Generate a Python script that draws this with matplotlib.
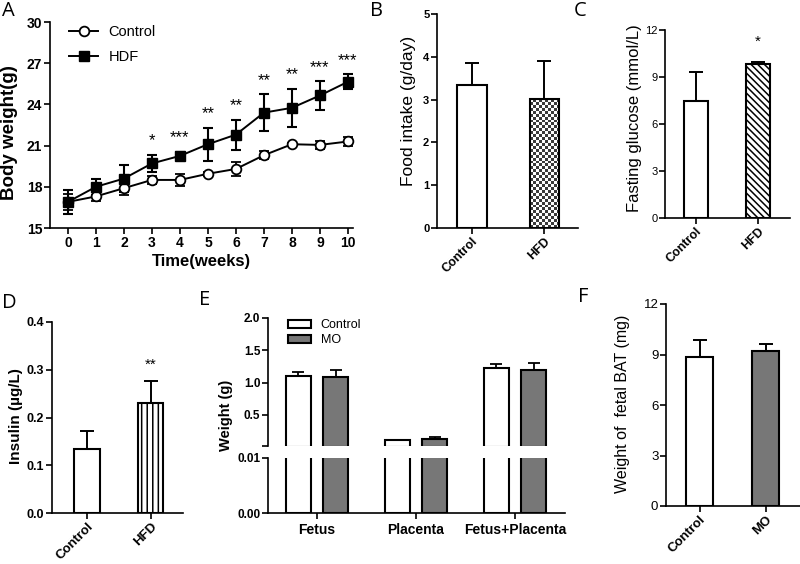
import matplotlib
matplotlib.use('Agg')
import matplotlib.pyplot as plt
import numpy as np

plt.rcParams['font.family'] = ['Liberation Sans', 'DejaVu Sans']
plt.rcParams['axes.linewidth'] = 1.2
plt.rcParams['xtick.major.width'] = 1.2
plt.rcParams['ytick.major.width'] = 1.2
plt.rcParams['hatch.linewidth'] = 1.1

# ---- data ----
weeks = list(range(11))
ctrl_bw = [16.9, 17.3, 17.9, 18.5, 18.5, 18.95, 19.3, 20.3, 21.1, 21.05, 21.3]
ctrl_bw_err = [0.6, 0.3, 0.5, 0.3, 0.45, 0.15, 0.5, 0.3, 0.12, 0.3, 0.3]
hdf_bw = [16.9, 18.0, 18.6, 19.7, 20.25, 21.1, 21.8, 23.4, 23.75, 24.65, 25.65]
hdf_bw_err = [0.85, 0.6, 1.0, 0.65, 0.3, 1.2, 1.1, 1.35, 1.4, 1.05, 0.55]
bw_stars = {3: '*', 4: '***', 5: '**', 6: '**', 7: '**', 8: '**', 9: '***', 10: '***'}

groups_hfd = ['Control', 'HFD']
food = [3.33, 3.01]
food_err = [0.52, 0.9]
glucose = [7.5, 9.8]
glucose_err = [1.85, 0.17]
insulin = [0.133, 0.230]
insulin_err = [0.038, 0.046]

e_groups = ['Fetus', 'Placenta', 'Fetus+Placenta']
e_ctrl = [1.10, 0.11, 1.22]
e_ctrl_err = [0.07, 0.005, 0.07]
e_mo = [1.09, 0.125, 1.20]
e_mo_err = [0.10, 0.035, 0.10]

groups_mo = ['Control', 'MO']
bat = [8.87, 9.2]
bat_err = [0.98, 0.42]

W, H = 800, 564
fig = plt.figure(figsize=(W / 100, H / 100), dpi=100)


def px_axes(l, t, r, b):
    return fig.add_axes([l / W, 1 - b / H, (r - l) / W, (b - t) / H])


def clean(ax, fs, bold=True):
    for s in ['top', 'right']:
        ax.spines[s].set_visible(False)
    ax.tick_params(direction='out', length=4, labelsize=fs, pad=1.5)
    for lab in ax.get_xticklabels() + ax.get_yticklabels():
        lab.set_fontweight('bold' if bold else 'normal')


def letter(x, y, s):
    fig.text(x / W, 1 - y / H, s, fontsize=14.5, family='Open Sans', va='top', ha='left')


def rot_labels(ax, labels, fs):
    ax.set_xticks(range(len(labels)))
    ax.set_xticklabels(labels, rotation=45, ha='right', rotation_mode='anchor',
                       fontsize=fs, fontweight='bold')


# ---- A ----
ax = px_axes(50, 22, 353, 228)
ax.errorbar(weeks, ctrl_bw, yerr=ctrl_bw_err, fmt='none', ecolor='black', capsize=3.5,
            elinewidth=1.3, capthick=1.3, clip_on=False, zorder=2)
ax.errorbar(weeks, hdf_bw, yerr=hdf_bw_err, fmt='none', ecolor='black', capsize=3.5,
            elinewidth=1.5, capthick=1.5, clip_on=False, zorder=2)
ax.plot(weeks, ctrl_bw, color='black', marker='o', mfc='white', mec='black', ms=7,
        mew=1.3, lw=1.4, label='Control', clip_on=False, zorder=3)
ax.plot(weeks, hdf_bw, color='black', marker='s', mfc='black', ms=6.5, lw=1.4,
        label='HDF', clip_on=False, zorder=4)
for w, s in bw_stars.items():
    ax.text(w, hdf_bw[w] + hdf_bw_err[w] + 1.0, s, ha='center', va='center', fontsize=12)
ax.set_xlim(-0.64, 10.18)
ax.set_ylim(15, 30)
ax.set_xticks(weeks)
ax.set_yticks([15, 18, 21, 24, 27, 30])
clean(ax, 10)
ax.set_xlabel('Time(weeks)', fontsize=12, fontweight='bold', labelpad=3)
ax.set_ylabel('Body weight(g)', fontsize=13.5, fontweight='bold')
ax.yaxis.set_label_coords(-0.106, 0.461)
ax.legend(loc='upper left', frameon=False, fontsize=10.5, bbox_to_anchor=(0.02, 1.05),
          handlelength=2.0, handletextpad=0.7, labelspacing=0.75)
letter(2, 1, 'A')

# ---- B ----
ax = px_axes(437, 14, 578, 228)
bars = ax.bar([0, 1], food, width=0.41, facecolor='none', edgecolor='black',
              linewidth=1.5, zorder=2)
ax.bar([0], food[:1], width=0.41, facecolor='white', edgecolor='none', zorder=1)
checker = np.indices((44, 10)).sum(axis=0) % 2
im = ax.imshow(checker, cmap='gray_r', vmin=0, vmax=1.3, interpolation='nearest',
               extent=(1 - 0.205, 1 + 0.205, 0, food[1]), aspect='auto', zorder=1)
im.set_clip_path(bars[1])
ax.errorbar([0, 1], food, yerr=[[0, 0], food_err], fmt='none', ecolor='black',
            elinewidth=1.4, capsize=5, capthick=1.4, zorder=3)
ax.set_xlim(-0.476, 1.46)
ax.set_ylim(0, 5)
ax.set_yticks([0, 1, 2, 3, 4, 5])
clean(ax, 8)
rot_labels(ax, groups_hfd, 9)
ax.set_ylabel('Food intake (g/day)', fontsize=12.5)
ax.yaxis.set_label_coords(-0.15, 0.547)
letter(370, 1, 'B')

# ---- C ----
ax = px_axes(665, 30, 790, 218)
ax.bar([0], glucose[:1], width=0.39, facecolor='white', edgecolor='black', linewidth=1.5)
ax.bar([1], glucose[1:], width=0.39, facecolor='white', edgecolor='black',
       linewidth=1.5, hatch='\\\\\\\\\\')
ax.errorbar([0, 1], glucose, yerr=[[0, 0], glucose_err], fmt='none', ecolor='black',
            elinewidth=1.4, capsize=5, capthick=1.4)
ax.text(1, glucose[1] + glucose_err[1] + 1.3, '*', ha='center', va='center', fontsize=11)
ax.set_xlim(-0.5, 1.52)
ax.set_ylim(0, 12)
ax.set_yticks([0, 3, 6, 9, 12])
clean(ax, 8, bold=False)
rot_labels(ax, groups_hfd, 9)
ax.set_ylabel('Fasting glucose (mmol/L)', fontsize=12)
ax.yaxis.set_label_coords(-0.18, 0.529)
letter(574, 1, 'C')

# ---- D ----
ax = px_axes(52, 322, 183, 513)
ax.bar([0], insulin[:1], width=0.4, facecolor='white', edgecolor='black', linewidth=1.5)
ax.bar([1], insulin[1:], width=0.4, facecolor='white', edgecolor='black',
       linewidth=1.5, hatch='|||')
ax.errorbar([0, 1], insulin, yerr=[[0, 0], insulin_err], fmt='none', ecolor='black',
            elinewidth=1.4, capsize=5, capthick=1.4)
ax.text(1, insulin[1] + insulin_err[1] + 0.035, '**', ha='center', va='center', fontsize=11)
ax.set_xlim(-0.55, 1.51)
ax.set_ylim(0, 0.4)
ax.set_yticks([0, 0.1, 0.2, 0.3, 0.4], ['0.0', '0.1', '0.2', '0.3', '0.4'])
clean(ax, 9)
rot_labels(ax, groups_hfd, 9.5)
ax.set_ylabel('Insulin (\u00b5g/L)', fontsize=11, fontweight='bold')
ax.yaxis.set_label_coords(-0.22, 0.51)
letter(2, 293, 'D')

# ---- E (broken axis) ----
xg = np.arange(len(e_groups))
off, bw = 0.187, 0.25
axu = px_axes(268, 318, 565, 446)
axl = px_axes(268, 458, 565, 513)
for a in (axu, axl):
    a.bar(xg - off, e_ctrl, width=bw, facecolor='white', edgecolor='black',
          linewidth=1.5, label='Control')
    a.bar(xg + off, e_mo, width=bw, facecolor='#777777', edgecolor='black',
          linewidth=1.5, label='MO')
    a.set_xlim(-0.495, 2.505)
axu.errorbar(xg - off, e_ctrl, yerr=[np.zeros(3), e_ctrl_err], fmt='none', ecolor='black',
             elinewidth=1.3, capsize=4, capthick=1.3)
axu.errorbar(xg + off, e_mo, yerr=[np.zeros(3), e_mo_err], fmt='none', ecolor='black',
             elinewidth=1.3, capsize=4, capthick=1.3)
axu.set_ylim(0.02, 2.0)
axu.set_yticks([0.02, 0.5, 1.0, 1.5, 2.0], ['', '0.5', '1.0', '1.5', '2.0'])
axu.spines['bottom'].set_visible(False)
axu.set_xticks([])
clean(axu, 8.5)
axl.set_ylim(0, 0.01)
axl.set_yticks([0, 0.01], ['0.00', '0.01'])
axl.set_xticks(xg)
axl.set_xticklabels(e_groups, fontsize=10, fontweight='bold')
clean(axl, 8.5)
axl.tick_params(axis='x', labelsize=10, pad=3)
for lab in axl.get_xticklabels():
    lab.set_fontweight('bold')
fig.text(226 / W, 1 - 415 / H, 'Weight (g)', rotation=90, fontsize=10.5,
         fontweight='bold', ha='center', va='center')
axu.legend(loc='upper left', frameon=False, fontsize=9, bbox_to_anchor=(0.03, 1.08),
           handlelength=1.8, handleheight=0.6, handletextpad=0.8, labelspacing=0.25)
letter(199, 290, 'E')

# ---- F ----
ax = px_axes(666, 304, 800, 506)
ax.bar([0, 1], bat, width=0.41, color=['white', '#777777'], edgecolor='black', linewidth=1.5)
ax.errorbar([0, 1], bat, yerr=[[0, 0], bat_err], fmt='none', ecolor='black',
            elinewidth=1.4, capsize=5, capthick=1.4)
ax.set_xlim(-0.51, 1.52)
ax.set_ylim(0, 12)
ax.set_yticks([0, 3, 6, 9, 12])
clean(ax, 9.5, bold=False)
rot_labels(ax, groups_mo, 9.5)
ax.set_ylabel('Weight of  fetal BAT (mg)', fontsize=11.5)
ax.yaxis.set_label_coords(-0.27, 0.505)
letter(578, 287, 'F')

plt.savefig('out.png', dpi=100)
